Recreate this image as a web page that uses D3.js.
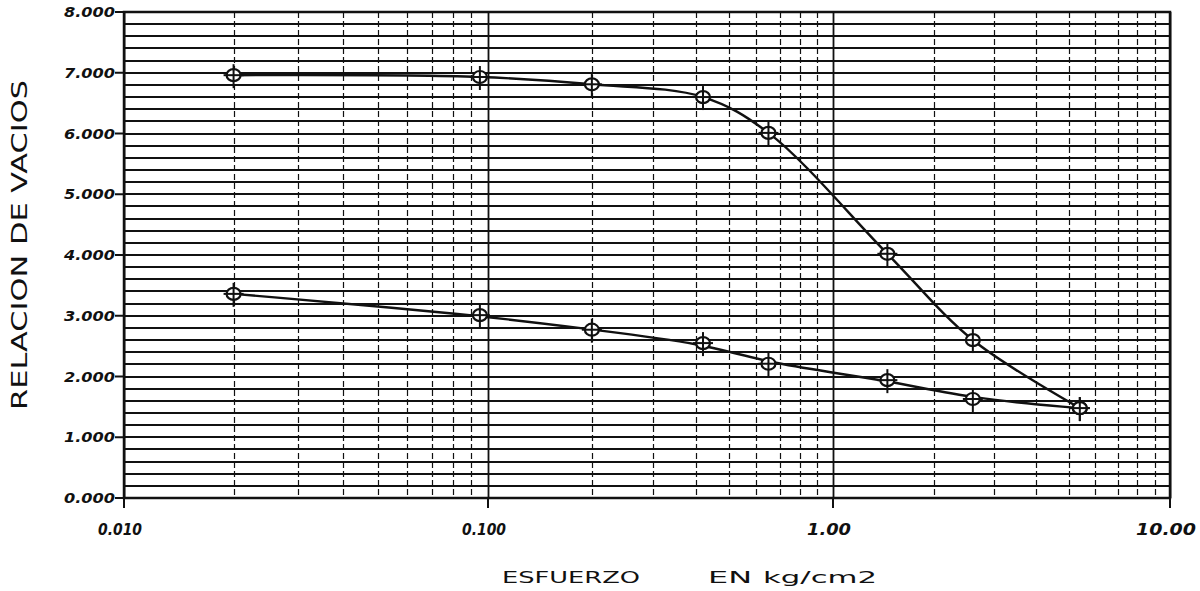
<!DOCTYPE html>
<html>
<head>
<meta charset="utf-8">
<script src="https://cdn.jsdelivr.net/npm/d3@7"></script>
<style>
  body { margin: 0; background: #fff; }
  svg text { fill: #111; }
</style>
</head>
<body>
<div id="chart"></div>
<script>
var width = 1200;
var height = 591;

// esfuerzo (kg/cm2), lectura del grafico
var esfuerzo = [0.02, 0.095, 0.2, 0.42, 0.65, 1.45, 2.6, 5.4];
// relacion de vacios, rama de carga y de descarga
var carga    = [6.96, 6.93, 6.81, 6.60, 6.01, 4.02, 2.60, 1.48];
var descarga = [3.36, 3.01, 2.77, 2.55, 2.21, 1.94, 1.63, 1.48];

var xTicks = [0.01, 0.1, 1, 10];
var xTickLabels = ["0.010", "0.100", "1.00", "10.00"];
var yTicks = [0, 1, 2, 3, 4, 5, 6, 7, 8];
var yTickLabels = ["0.000", "1.000", "2.000", "3.000", "4.000", "5.000", "6.000", "7.000", "8.000"];

// limites del area de dibujo (window.top no se puede usar)
var pLeft = 124, pRight = 1170, pTop = 12, pBottom = 498;

var svg = d3.select('#chart').append('svg')
  .attr('width', width).attr('height', height);

// papel semilog dibujado a mano: cada decada tiene un ancho algo distinto
var x = d3.scaleLog()
  .domain([0.01, 0.1, 1, 10])
  .range([pLeft, 488, 833, pRight]);

var y = d3.scaleLinear()
  .domain([0, 8])
  .range([pBottom, pTop]);

var grid = svg.append('g');

// horizontales cada 0.2
grid.selectAll('line.h')
  .data(y.ticks(40))
  .enter().append('line')
  .attr('class', 'h')
  .attr('x1', pLeft).attr('x2', pRight)
  .attr('y1', function(d){ return Math.round(y(d)); })
  .attr('y2', function(d){ return Math.round(y(d)); })
  .style('stroke', '#111')
  .style('stroke-width', 2);

function isDecade(d) {
  var l = Math.log10(d);
  return Math.abs(l - Math.round(l)) < 1e-9;
}

// verticales logaritmicas
grid.selectAll('line.v')
  .data(x.ticks())
  .enter().append('line')
  .attr('class', 'v')
  .attr('x1', function(d){ return Math.round(x(d)) + 0.5; })
  .attr('x2', function(d){ return Math.round(x(d)) + 0.5; })
  .attr('y1', pTop).attr('y2', pBottom)
  .style('stroke', '#111')
  .style('stroke-width', function(d){ return isDecade(d) ? 1.8 : 1.2; })
  .style('stroke-dasharray', function(d){ return isDecade(d) ? null : '6,3'; });

// marco
svg.append('rect')
  .attr('x', pLeft).attr('y', pTop)
  .attr('width', pRight - pLeft).attr('height', pBottom - pTop)
  .style('fill', 'none')
  .style('stroke', '#111')
  .style('stroke-width', 2.5);

// marcas y etiquetas del eje y
svg.selectAll('line.ytick')
  .data(yTicks)
  .enter().append('line')
  .attr('class', 'ytick')
  .attr('x1', pLeft - 9).attr('x2', pLeft)
  .attr('y1', function(d){ return y(d); })
  .attr('y2', function(d){ return y(d); })
  .style('stroke', '#111').style('stroke-width', 2);

svg.selectAll('text.ylab')
  .data(yTicks)
  .enter().append('text')
  .attr('class', 'ylab')
  .attr('x', 64)
  .attr('y', function(d){ return y(d); })
  .attr('dy', '0.36em')
  .attr('textLength', 51)
  .attr('lengthAdjust', 'spacingAndGlyphs')
  .style('font-family', 'DejaVu Sans')
  .style('font-style', 'italic')
  .style('font-weight', 'bold')
  .style('font-size', '14px')
  .text(function(d, i){ return yTickLabels[i]; });

// marcas y etiquetas del eje x
svg.selectAll('line.xtick')
  .data(xTicks)
  .enter().append('line')
  .attr('class', 'xtick')
  .attr('x1', function(d){ return x(d); })
  .attr('x2', function(d){ return x(d); })
  .attr('y1', pBottom).attr('y2', pBottom + 10)
  .style('stroke', '#111').style('stroke-width', 2);

svg.selectAll('text.xlab')
  .data(xTicks)
  .enter().append('text')
  .attr('class', 'xlab')
  .attr('x', function(d){ return x(d) - 4; })
  .attr('y', 535)
  .attr('text-anchor', 'middle')
  .attr('textLength', function(d, i){ return i == 3 ? 60 : 44; })
  .attr('lengthAdjust', 'spacingAndGlyphs')
  .style('font-family', 'DejaVu Sans')
  .style('font-style', 'italic')
  .style('font-weight', 'bold')
  .style('font-size', '15px')
  .text(function(d, i){ return xTickLabels[i]; });

// titulos
svg.append('text')
  .attr('transform', 'translate(27,245) rotate(-90)')
  .attr('text-anchor', 'middle')
  .attr('textLength', 330)
  .attr('lengthAdjust', 'spacingAndGlyphs')
  .style('font-family', 'DejaVu Sans')
  .style('font-size', '21px')
  .text('RELACION DE VACIOS');

var xt = [
  {t: 'ESFUERZO', x: 502, w: 138},
  {t: 'EN', x: 708, w: 44},
  {t: 'kg/cm2', x: 763, w: 114}
];
svg.selectAll('text.xtitle')
  .data(xt)
  .enter().append('text')
  .attr('class', 'xtitle')
  .attr('x', function(d){ return d.x; })
  .attr('y', 583)
  .attr('textLength', function(d){ return d.w; })
  .attr('lengthAdjust', 'spacingAndGlyphs')
  .style('font-family', 'DejaVu Sans')
  .style('font-size', '15px')
  .text(function(d){ return d.t; });

// curvas: la de carga pasa por los puntos, la de descarga es un trazo suavizado
var series = [
  {vals: carga, curve: d3.curveCatmullRom.alpha(0.5)},
  {vals: descarga, curve: d3.curveBasis}
];
series.forEach(function(s){
  var pts = esfuerzo.map(function(e, i){ return [e, s.vals[i]]; });
  var line = d3.line()
    .x(function(d){ return x(d[0]); })
    .y(function(d){ return y(d[1]); })
    .curve(s.curve);

  svg.append('path')
    .datum(pts)
    .attr('d', line)
    .style('fill', 'none')
    .style('stroke', '#111')
    .style('stroke-width', 2.4);

  var m = svg.append('g').selectAll('g')
    .data(pts)
    .enter().append('g')
    .attr('transform', function(d){ return 'translate(' + x(d[0]) + ',' + y(d[1]) + ')'; });
  m.append('ellipse')
    .attr('rx', 7).attr('ry', 6)
    .style('fill', '#fff')
    .style('stroke', '#111')
    .style('stroke-width', 2.2);
  m.append('line')
    .attr('x1', 0).attr('x2', 0).attr('y1', -11).attr('y2', 13)
    .style('stroke', '#111').style('stroke-width', 2);
  m.append('line')
    .attr('x1', -10).attr('x2', 10).attr('y1', 0).attr('y2', 0)
    .style('stroke', '#111').style('stroke-width', 2);
});
</script>
</body>
</html>
